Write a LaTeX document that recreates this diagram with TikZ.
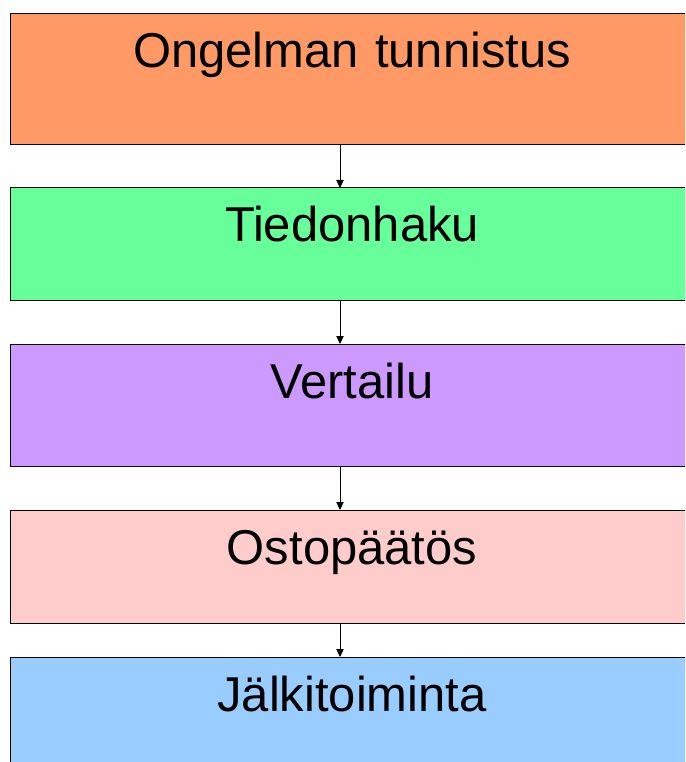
\documentclass[tikz,border=0pt]{standalone}
\usepackage{fontspec}
\setmainfont{Liberation Sans}
\usetikzlibrary{arrows.meta}
\definecolor{orangeBox}{HTML}{FF9966}
\definecolor{greenBox}{HTML}{66FF99}
\definecolor{purpleBox}{HTML}{CC99FF}
\definecolor{pinkBox}{HTML}{FFCCCC}
\definecolor{blueBox}{HTML}{99CCFF}
\begin{document}
\begin{tikzpicture}[x=0.75pt,y=-0.75pt,->,>={Triangle[width=5.5pt,length=6pt]},
		line width=0.75pt,
		phase/.style={draw, anchor=north west, inner sep=0, outer sep=0,
			text width=684*0.75pt, align=center, text height=54*0.75pt,
			font=\fontsize{36.7}{44}\selectfont}]
	\useasboundingbox (0,0) rectangle (685,762);
	\clip (0,0) rectangle (685,762);
	\node[phase, fill=orangeBox, text depth=77*0.75pt] (tunnistus) at (10,14) {Ongelman tunnistus};
	\node[phase, fill=greenBox, text depth=59*0.75pt] (haku) at (10,188) {Tiedonhaku};
	\node[phase, fill=purpleBox, text depth=68*0.75pt] (vertailu) at (10,344) {Vertailu};
	\node[phase, fill=pinkBox, text depth=59*0.75pt] (paatos) at (10,510) {Ostopäätös};
	\node[phase, fill=blueBox, text depth=70*0.75pt] (jalki) at (10,657) {Jälkitoiminta};
	
	\coordinate (akseli) at (340,0);
	\draw (tunnistus.south -| akseli) -- (haku.north -| akseli);
	\draw (haku.south -| akseli) -- (vertailu.north -| akseli);
	\draw (vertailu.south -| akseli) -- (paatos.north -| akseli);
	\draw (paatos.south -| akseli) -- (jalki.north -| akseli);
\end{tikzpicture}
\end{document}
